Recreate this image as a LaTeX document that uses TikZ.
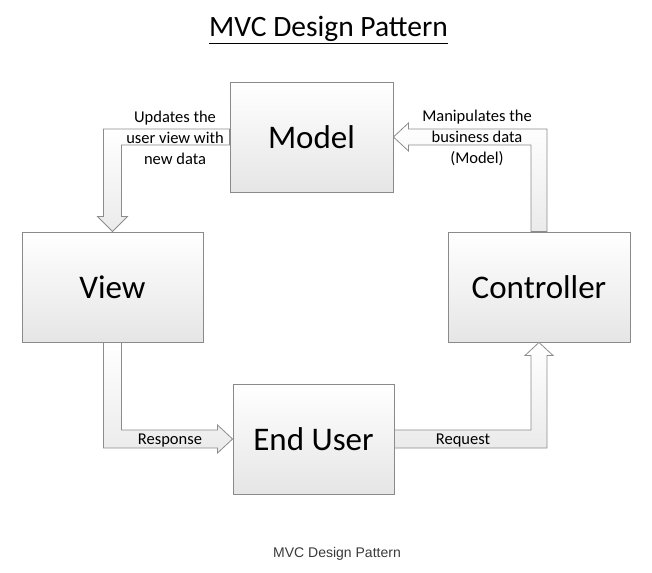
\documentclass[tikz,border=0pt]{standalone}
\usepackage{fontspec}
\setmainfont{Carlito}
\newfontfamily\capfont{Liberation Sans}
\usetikzlibrary{calc}
\definecolor{boxline}{HTML}{8A8A8A}
\definecolor{arrline}{HTML}{8C8C8C}
\definecolor{capgray}{HTML}{3A3A3A}
\tikzset{
  box/.style={draw=boxline, line width=0.9pt, shading=axis, top color=white, bottom color=black!10,
    minimum height=110pt, inner sep=0pt, font=\fontsize{33}{36}\selectfont},
  blockarrow/.style={draw=arrline, line width=0.8pt, shading=axis, top color=white, bottom color=black!8, line join=miter},
  lbl/.style={font=\fontsize{16.5}{21}\selectfont, align=center, inner sep=0pt},
}
\begin{document}
\begin{tikzpicture}[x=1pt,y=-1pt]
\useasboundingbox (0,0) rectangle (652,572);
% title
\node[font=\fontsize{29.5}{32}\selectfont, anchor=base] (title) at (328.5,37) {\underline{MVC Design Pattern}};
% boxes
\node[box, minimum width=163pt] (model) at (311.5,137) {Model};
\node[box, minimum width=181pt] (view) at (112.5,287) {View};
\node[box, minimum width=182pt] (ctrl) at (539,287) {Controller};
\node[box, minimum width=161pt] (user) at (313.5,439) {End User};
% corners
\coordinate (c1) at (view.north |- model.west);
\coordinate (c2) at (ctrl.north |- model.east);
\coordinate (c3) at (view.south |- user.west);
\coordinate (c4) at (ctrl.south |- user.east);
% Model -> View
\path[blockarrow] ($(model.west)+(0,-8)$) -- ($(c1)+(-9,-8)$) -- ($(view.north)+(-9,-15)$) -- ($(view.north)+(-15,-15)$)
  -- (view.north) -- ($(view.north)+(15,-15)$) -- ($(view.north)+(9,-15)$) -- ($(c1)+(9,8)$) -- ($(model.west)+(0,8)$) -- cycle;
% Controller -> Model
\path[blockarrow] ($(ctrl.north)+(-8,0)$) -- ($(c2)+(-8,8)$) -- ($(model.east)+(15,8)$) -- ($(model.east)+(15,14)$)
  -- (model.east) -- ($(model.east)+(15,-14)$) -- ($(model.east)+(15,-8)$) -- ($(c2)+(8,-8)$) -- ($(ctrl.north)+(8,0)$) -- cycle;
% View -> End User
\path[blockarrow] ($(view.south)+(-9,0)$) -- ($(c3)+(-9,9)$) -- ($(user.west)+(-15,9)$) -- ($(user.west)+(-15,14)$)
  -- (user.west) -- ($(user.west)+(-15,-14)$) -- ($(user.west)+(-15,-9)$) -- ($(c3)+(9,-9)$) -- ($(view.south)+(9,0)$) -- cycle;
% End User -> Controller
\path[blockarrow] ($(user.east)+(0,-9)$) -- ($(c4)+(-8,-9)$) -- ($(ctrl.south)+(-8,13)$) -- ($(ctrl.south)+(-14,13)$)
  -- (ctrl.south) -- ($(ctrl.south)+(14,13)$) -- ($(ctrl.south)+(8,13)$) -- ($(c4)+(8,9)$) -- ($(user.east)+(0,9)$) -- cycle;
% labels
\node[lbl] (l1) at (175,138) {Updates the\\user view with\\new data};
\node[lbl] (l2) at (477,138) {Manipulates the\\business data\\(Model)};
\node[lbl, anchor=base] (l3) at (170,444) {Response};
\node[lbl, anchor=base] (l4) at (463,444) {Request};
% caption
\node[font=\capfont\fontsize{14}{16}\selectfont, text=capgray, anchor=base] (cap) at (337,557) {MVC Design Pattern};
\end{tikzpicture}
\end{document}
